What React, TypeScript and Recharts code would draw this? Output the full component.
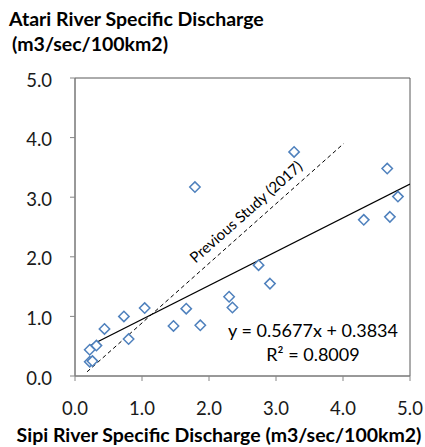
import { ReferenceArea, Scatter, ScatterChart, XAxis, YAxis } from "recharts";

// Sipi (x) vs Atari (y) specific discharge, m3/sec/100km2
const sipiDischarge = [
  0.22, 0.26, 0.22, 0.32, 0.44, 0.73, 0.8, 1.04, 1.47, 1.66, 1.87, 2.3, 2.35, 2.74, 2.91,
  1.79, 3.27, 4.31, 4.7, 4.66, 4.82
];
const atariDischarge = [
  0.24, 0.25, 0.44, 0.51, 0.79, 1.0, 0.62, 1.14, 0.84, 1.13, 0.85, 1.33, 1.15, 1.86, 1.55,
  3.17, 3.76, 2.62, 2.67, 3.48, 3.01
];

// linear trendline end points (y = 0.5677x + 0.3834)
const trendX = [0.22, 5.0];
const trendY = [0.508, 3.222];

// previous study (2017) relation
const previousX = [0.18, 4.01];
const previousY = [0.07, 3.9];

const axisTicks = [0, 1, 2, 3, 4, 5];

const FONT = "Lato, 'Open Sans', sans-serif";
const MARKER = "#4F81BD";

const toPoints = (xs: number[], ys: number[]) => xs.map((x, i) => ({ x, y: ys[i] }));

const Diamond = (props: any) => {
  const { cx, cy } = props;
  if (cx == null || cy == null) return <g />;
  const r = 5.2;
  return (
    <path
      d={`M${cx},${cy - r}L${cx + r},${cy}L${cx},${cy + r}L${cx - r},${cy}Z`}
      fill="#fff"
      stroke={MARKER}
      strokeWidth={1.5}
    />
  );
};

const NoMark = () => <g />;

export default function App() {
  const observed = toPoints(sipiDischarge, atariDischarge);
  const trend = toPoints(trendX, trendY);
  const previous = toPoints(previousX, previousY);

  return (
    <div style={{ position: "fixed", left: 0, top: 0, width: 425, height: 447, background: "#fff" }}>
      <ScatterChart width={425} height={447} margin={{ top: 78, right: 15, bottom: 31, left: 0 }}>
        <XAxis
          type="number"
          dataKey="x"
          domain={[0, 5]}
          ticks={axisTicks}
          tickFormatter={(v: number) => v.toFixed(1)}
          height={40}
          tickSize={5}
          tickMargin={21}
          stroke="#868686"
          tick={{ fill: "#1a1a1a", fontSize: 18.5, fontFamily: FONT }}
          allowDataOverflow
        />
        <YAxis
          type="number"
          dataKey="y"
          domain={[0, 5]}
          ticks={axisTicks}
          tickFormatter={(v: number) => v.toFixed(1)}
          width={75}
          tickSize={5}
          tickMargin={18}
          stroke="#868686"
          tick={{ fill: "#1a1a1a", fontSize: 18.5, fontFamily: FONT, dy: 2 }}
          allowDataOverflow
        />
        <ReferenceArea x1={0} x2={5} y1={0} y2={5} fill="none" stroke="#595959" strokeWidth={1} />
        <Scatter
          data={previous}
          shape={NoMark}
          line={{ stroke: "#000", strokeWidth: 1, strokeDasharray: "4 3" }}
          isAnimationActive={false}
        />
        <Scatter
          data={trend}
          shape={NoMark}
          line={{ stroke: "#000", strokeWidth: 1.3 }}
          isAnimationActive={false}
        />
        <Scatter data={observed} shape={Diamond} isAnimationActive={false} />
      </ScatterChart>
      <svg
        width={425}
        height={447}
        style={{ position: "absolute", left: 0, top: 0, pointerEvents: "none" }}
        fontFamily={FONT}
      >
        <text x={9} y={26} fontSize={19.5} fontWeight="bold" fill="#000">
          Atari River Specific Discharge
        </text>
        <text x={12} y={51} fontSize={19.5} fontWeight="bold" fill="#000">
          (m3/sec/100km2)
        </text>
        <text x={219} y={442} fontSize={19.5} fontWeight="bold" fill="#000" textAnchor="middle">
          Sipi River Specific Discharge (m3/sec/100km2)
        </text>
        <text
          x={247}
          y={213}
          fontSize={15}
          fill="#000"
          textAnchor="middle"
          dominantBaseline="middle"
          transform="rotate(-41.6 247 213)"
        >
          Previous Study (2017)
        </text>
        <text x={313} y={337} fontSize={18} fill="#000" textAnchor="middle">
          y = 0.5677x + 0.3834
        </text>
        <text x={313} y={361} fontSize={18} fill="#000" textAnchor="middle">
          R² = 0.8009
        </text>
      </svg>
    </div>
  );
}
